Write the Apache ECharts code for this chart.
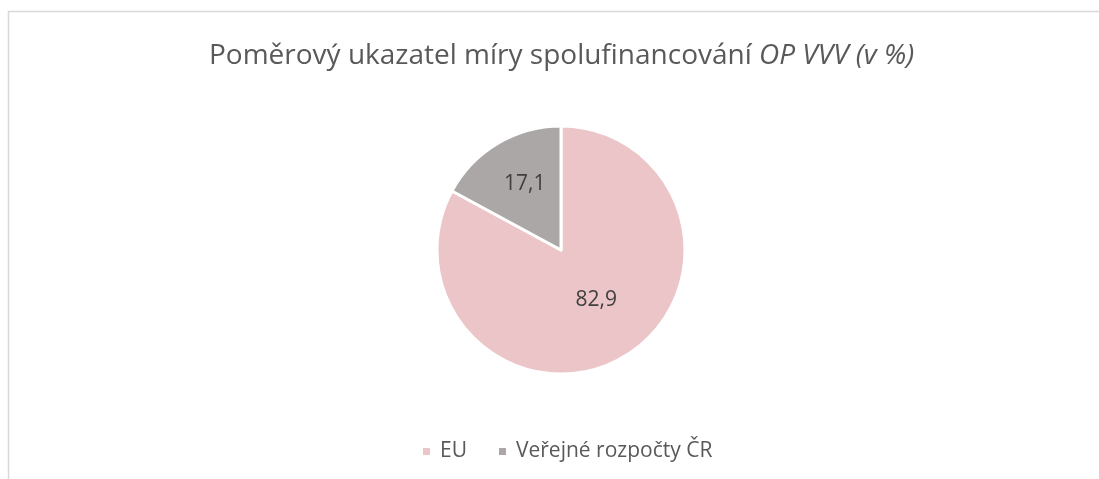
<!DOCTYPE html>
<html>
<head>
<meta charset="utf-8">
<script src="https://cdn.jsdelivr.net/npm/echarts@6/dist/echarts.min.js"></script>
<style>
  html, body { margin: 0; padding: 0; background: #fff; }
  #chart { width: 1099px; height: 479px; }
</style>
</head>
<body>
<div id="chart"></div>
<script>
const categories = ['EU', 'Veřejné rozpočty ČR']
const shares = [82.9, 17.1]
const colors = ['#ebc5c7', '#aaa7a6']
// label nudges so they sit where the original put them
const labelOffsets = [[2, -6], [-3, -10]]

const myChart = echarts.init(document.getElementById('chart'))
myChart.setOption({
  animation: false,
  textStyle: { fontFamily: 'Open Sans' },
  graphic: [
    {
      type: 'polyline',
      shape: { points: [[8.5, 479], [8.5, 11.5], [1099, 11.5]] },
      style: { stroke: '#d9d9d9', lineWidth: 1.5, fill: null }
    }
  ],
  title: {
    text: 'Poměrový ukazatel míry spolufinancování {i|OP VVV (v %)}',
    left: 204,
    top: 37,
    textStyle: {
      fontSize: 28,
      fontWeight: 'normal',
      color: '#595959',
      rich: {
        i: { fontSize: 28, fontStyle: 'italic', color: '#595959' }
      }
    }
  },
  legend: {
    top: 436,
    left: 416,
    icon: 'rect',
    itemWidth: 9,
    itemHeight: 9,
    itemGap: 30,
    textStyle: { fontSize: 21, color: '#595959', padding: [0, 0, 0, 4] },
    data: categories
  },
  series: [
    {
      name: 'spolufinancování',
      type: 'pie',
      center: [561, 250],
      radius: 124,
      startAngle: 90,
      clockwise: true,
      label: {
        show: true,
        position: 'inside',
        fontSize: 21,
        color: '#404040',
        formatter: p => String(p.value).replace('.', ',')
      },
      labelLine: { show: false },
      itemStyle: { borderColor: '#fff', borderWidth: 3 },
      emphasis: { disabled: true },
      data: categories.map((name, i) => ({
        name,
        value: shares[i],
        itemStyle: { color: colors[i] },
        label: { offset: labelOffsets[i] }
      }))
    }
  ]
})
</script>
</body>
</html>
